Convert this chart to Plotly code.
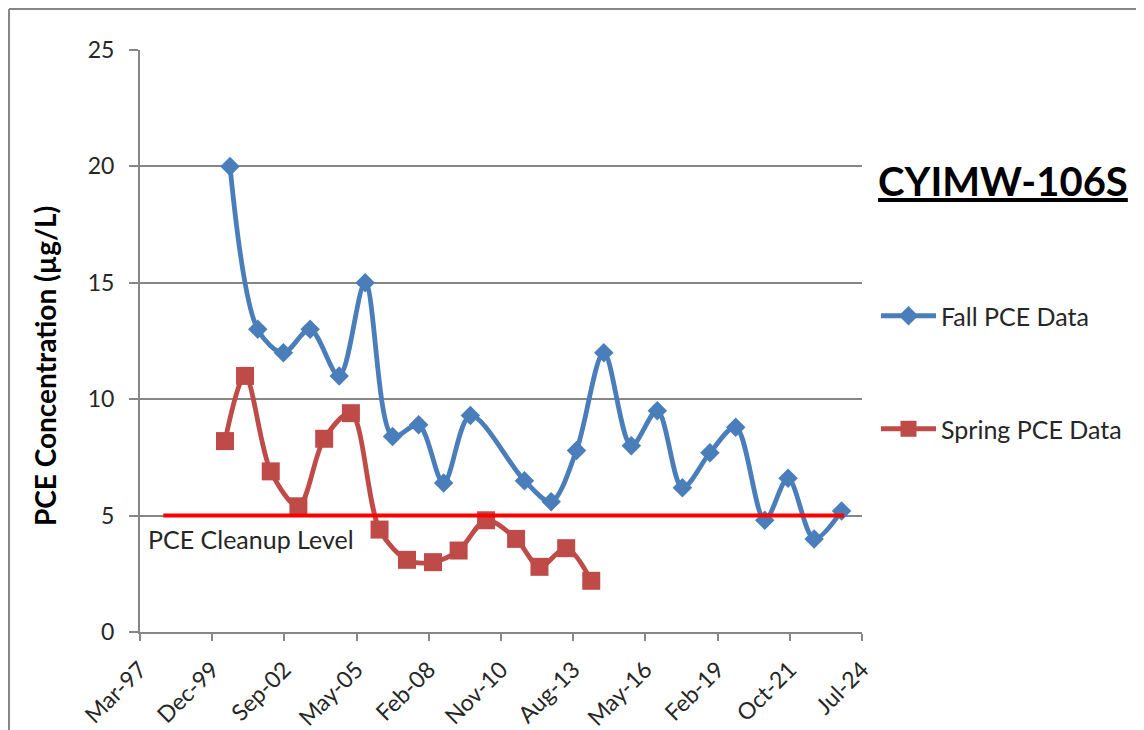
import plotly.graph_objects as go

# ---- data ----
fall_dates = ["2000-08-09", "2001-08-28", "2002-08-18", "2003-08-23", "2004-09-29",
              "2005-09-24", "2006-10-08", "2007-10-04", "2008-09-14", "2009-09-20",
              "2011-10-09", "2012-10-13", "2013-09-29", "2014-10-12", "2015-10-28",
              "2016-10-22", "2017-10-04", "2018-10-21", "2019-10-13", "2020-11-18",
              "2021-10-07", "2022-10-03", "2023-10-18"]
fall_vals = [20, 13, 12, 13, 11, 15, 8.4, 8.9, 6.4, 9.3, 6.5, 5.6, 7.8, 12, 8.0,
             9.5, 6.2, 7.7, 8.8, 4.8, 6.6, 4.0, 5.2]

spring_dates = ["2000-05-31", "2001-03-05", "2002-02-24", "2003-03-14", "2004-03-05",
                "2005-03-10", "2006-04-11", "2007-04-26", "2008-04-20", "2009-04-10",
                "2010-04-25", "2011-06-15", "2012-05-04", "2013-05-09", "2014-04-21"]
spring_vals = [8.2, 11, 6.9, 5.4, 8.3, 9.4, 4.4, 3.1, 3.0, 3.5, 4.8, 4.0, 2.8, 3.6, 2.2]

cleanup_dates = ["1998-01-27", "2023-11-23"]
cleanup_vals = [5, 5]

x_range = ["1997-03-11", "2024-07-27"]
x_tick0 = "1997-03-11"
x_dtick_days = 1000
y_range = [0, 25]
y_dtick = 5

title_text = "CYIMW-106S"
y_title = "PCE Concentration (µg/L)"
cleanup_label = "PCE Cleanup Level"

# ---- styling ----
FONT = "Lato"
BLUE = "#4A7EBB"
RED = "#BE4B48"
GRID = "#868686"
TXT = "#262626"

OFF = 8  # page body margin
W, H = 1144 - OFF, 730 - OFF
ML, MR, MT, MB = 140 - OFF, 282, 50 - OFF, 98
PW, PH = W - ML - MR, H - MT - MB


def px_x(p):
    return (p - OFF - ML) / PW


def px_y(p):
    return (H - MB - (p - OFF)) / PH


fig = go.Figure()
fig.add_trace(go.Scatter(
    x=fall_dates, y=fall_vals, name="Fall PCE Data", mode="lines+markers",
    line=dict(color=BLUE, width=4.8, shape="spline", smoothing=0.9),
    marker=dict(symbol="diamond", size=15, color=BLUE),
    legend="legend",
))
fig.add_trace(go.Scatter(
    x=spring_dates, y=spring_vals, name="Spring PCE Data", mode="lines+markers",
    line=dict(color=RED, width=4.8, shape="spline", smoothing=0.9),
    marker=dict(symbol="square", size=18, color=RED),
    legend="legend2",
))
fig.add_trace(go.Scatter(
    x=cleanup_dates, y=cleanup_vals, mode="lines", showlegend=False,
    line=dict(color="#FF0000", width=4),
))

legend_common = dict(
    xanchor="left", yanchor="middle", bgcolor="rgba(0,0,0,0)",
    font=dict(family=FONT, size=25, color=TXT), itemwidth=55,
    borderwidth=0,
)

fig.update_layout(
    width=W, height=H,
    margin=dict(l=ML, r=MR, t=MT, b=MB),
    paper_bgcolor="white", plot_bgcolor="white",
    font=dict(family=FONT, size=23, color=TXT),
    legend=dict(x=px_x(876), y=px_y(316), **legend_common),
    legend2=dict(x=px_x(876), y=px_y(429), **legend_common),
    xaxis=dict(
        type="date", range=x_range, tick0=x_tick0,
        dtick=86400000 * x_dtick_days, tickformat="%b-%y", tickangle=-45,
        showgrid=False, showline=True, linecolor=GRID, linewidth=2,
        ticks="outside", ticklen=7, tickcolor=GRID, tickwidth=2,
        tickfont=dict(family=FONT, size=23, color=TXT), zeroline=False,
        automargin=False, ticklabelstandoff=6,
    ),
    yaxis=dict(
        range=y_range, dtick=y_dtick, tick0=0,
        showgrid=True, gridcolor=GRID, gridwidth=2,
        showline=True, linecolor=GRID, linewidth=2,
        ticks="outside", ticklen=9, tickcolor=GRID, tickwidth=2,
        tickfont=dict(family=FONT, size=23, color=TXT), zeroline=False,
        automargin=False, ticklabelstandoff=10,
    ),
    annotations=[
        dict(text="<b>" + y_title + "</b>", textangle=-90, showarrow=False,
             xref="paper", yref="paper", x=px_x(45), y=px_y(366),
             xanchor="center", yanchor="middle",
             font=dict(family=FONT, size=28, color="black")),
        dict(text="<b><u>" + title_text + "</u></b>", showarrow=False,
             xref="paper", yref="paper", x=px_x(1003), y=px_y(181),
             xanchor="center", yanchor="middle",
             font=dict(family=FONT, size=40, color="black")),
        dict(text=cleanup_label, showarrow=False,
             xref="paper", yref="paper", x=px_x(146), y=px_y(539),
             xanchor="left", yanchor="middle",
             font=dict(family=FONT, size=25, color=TXT)),
    ],
    shapes=[
        dict(type="line", xref="paper", yref="paper",
             x0=px_x(9), x1=px_x(9), y0=px_y(9), y1=px_y(740),
             line=dict(color=GRID, width=2)),
        dict(type="line", xref="paper", yref="paper",
             x0=px_x(9), x1=px_x(1150), y0=px_y(9), y1=px_y(9),
             line=dict(color=GRID, width=2)),
    ],
)

fig.write_html("out.html")
